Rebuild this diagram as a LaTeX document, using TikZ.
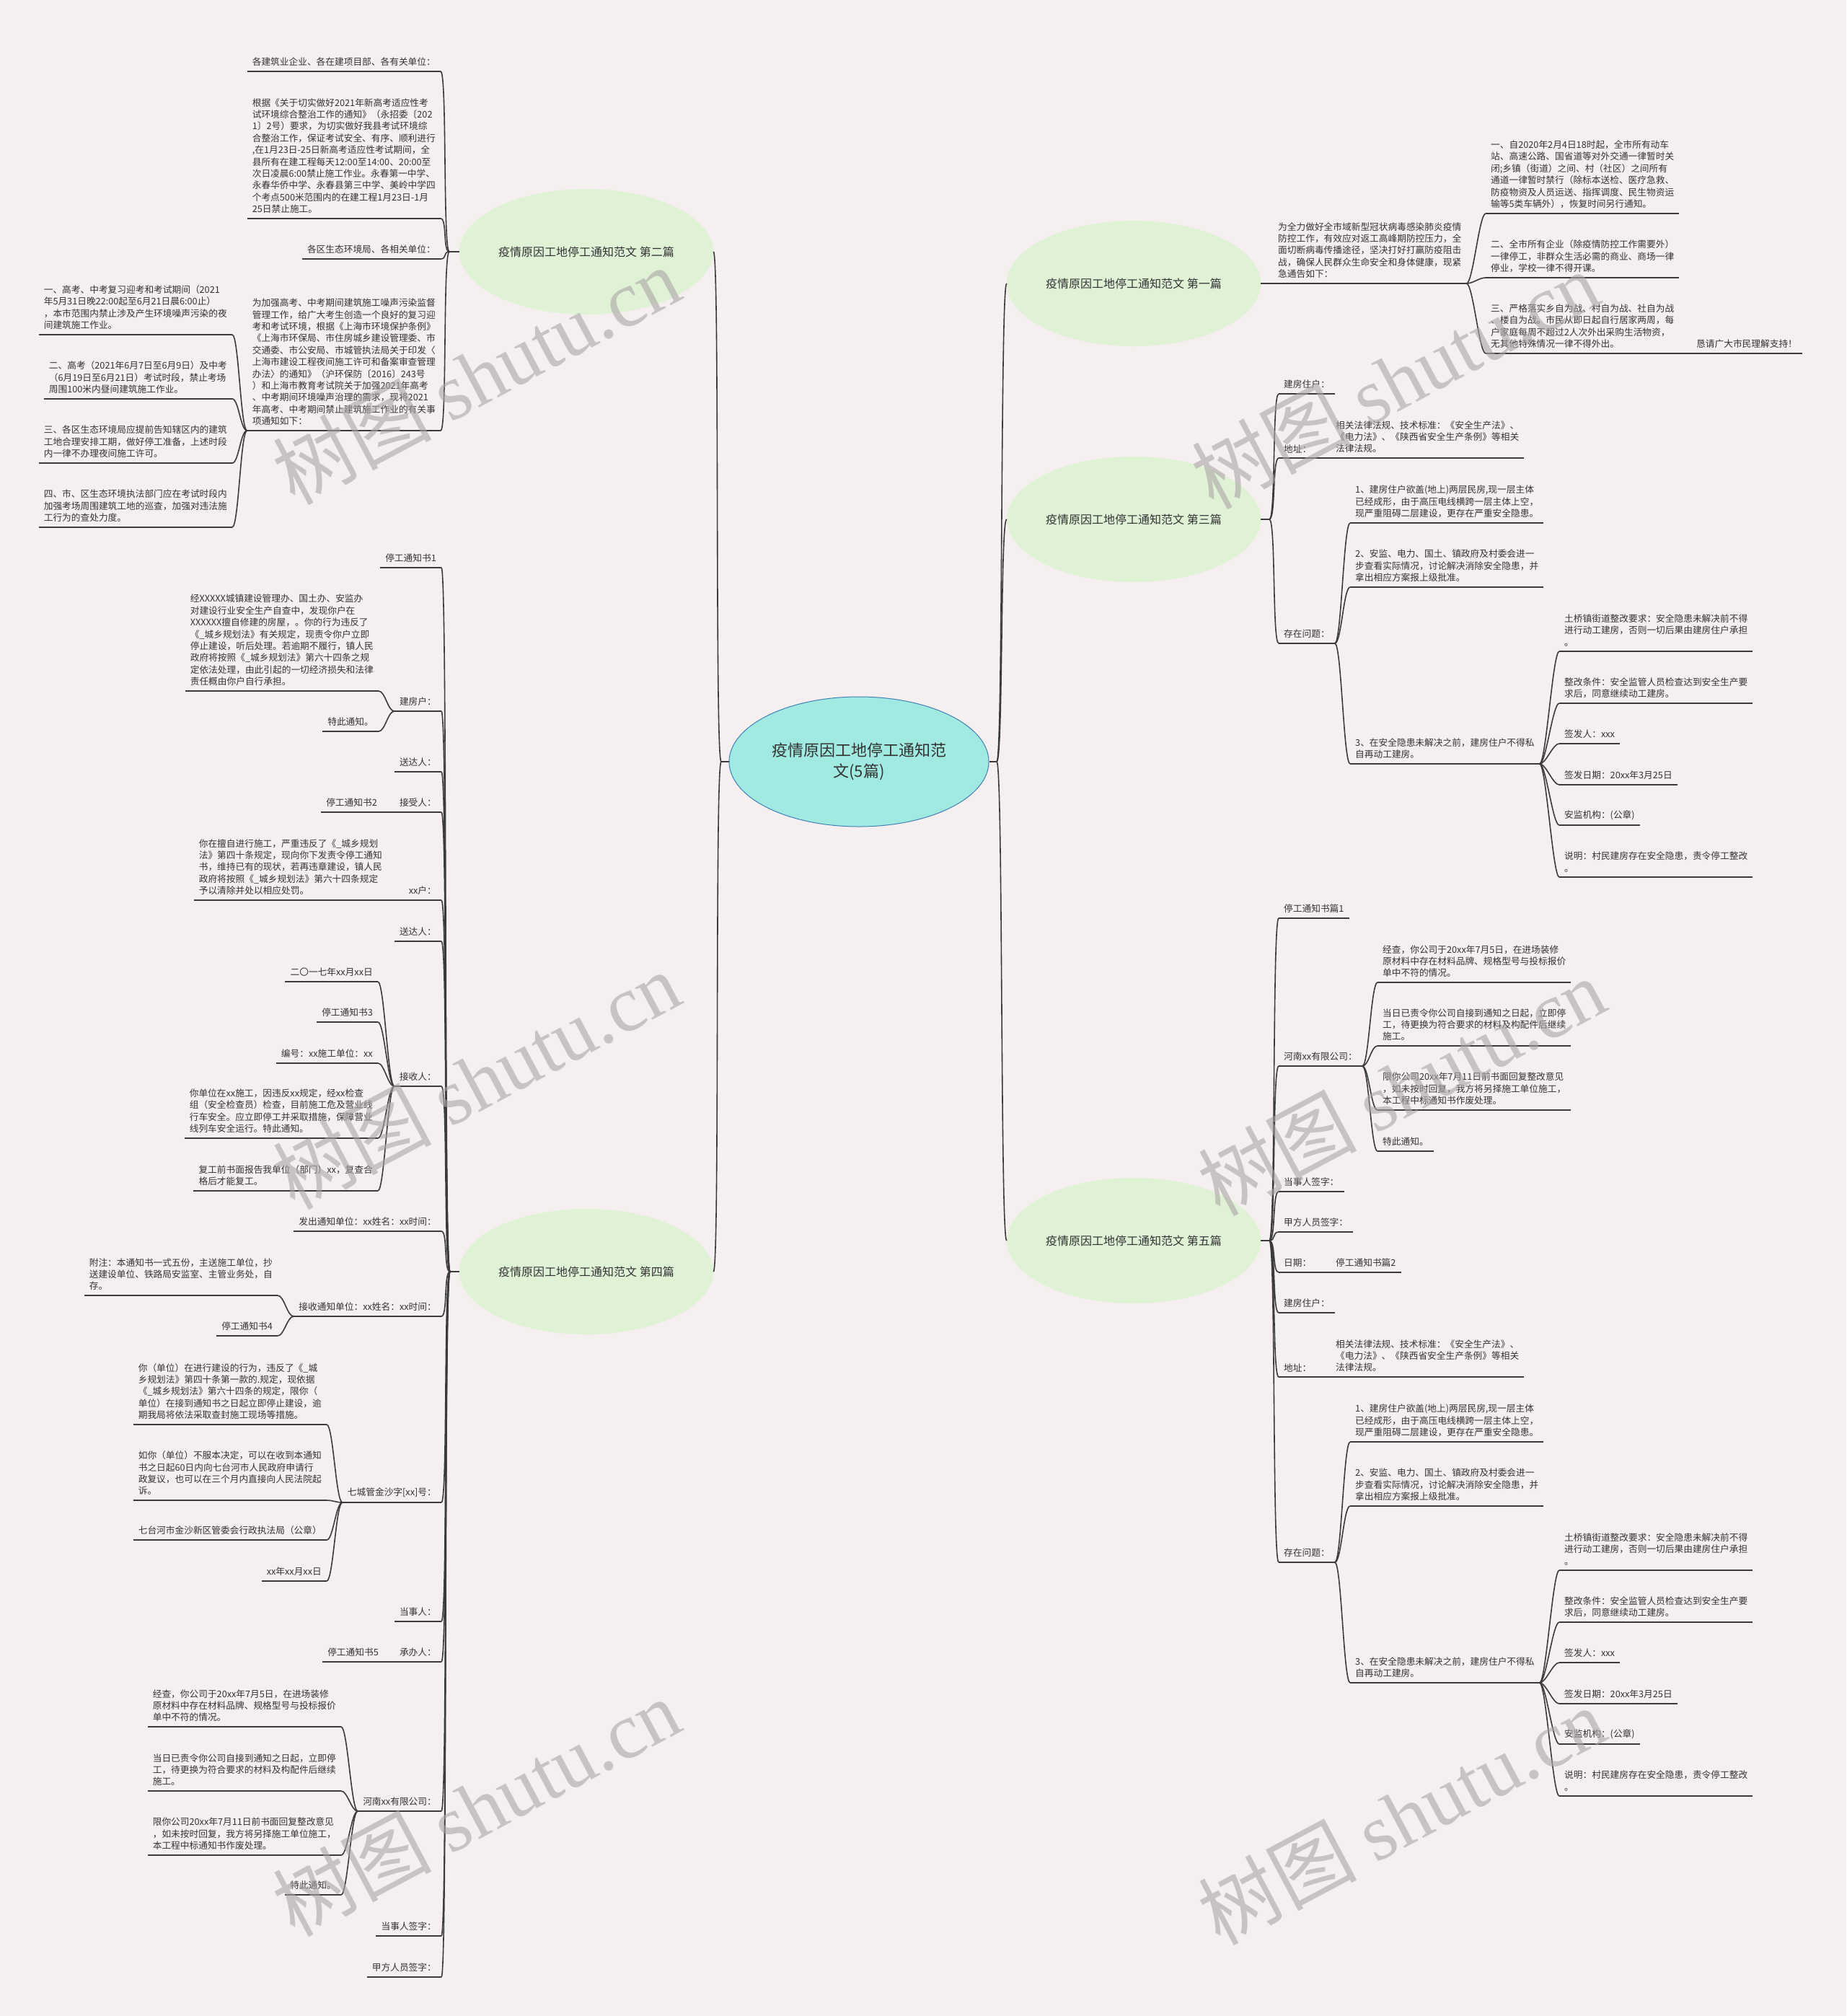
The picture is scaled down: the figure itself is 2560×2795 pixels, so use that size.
\documentclass[tikz,border=0pt]{standalone}
\usepackage{fontspec}
\setmainfont{Noto Sans CJK SC}
\newfontfamily\wmlatin{Liberation Serif}
\usetikzlibrary{shapes.geometric}
\definecolor{bg}{HTML}{F5EFEF}
\definecolor{txt}{HTML}{333333}
\definecolor{ln}{HTML}{3A3A3A}
\definecolor{topicfill}{HTML}{DFF2D6}
\definecolor{rootfill}{HTML}{A1EAE1}
\definecolor{rootline}{HTML}{3F7FB5}
\definecolor{wm}{HTML}{ABA5A5}
\tikzset{
 leaffont/.style={font=\fontsize{12.7pt}{16.4pt}\selectfont},
 uline/.style={draw=ln,line width=1.8pt},
 leafbase/.style={align=left, inner xsep=7pt, inner ysep=7pt, text=txt, leaffont},
 leafR/.style={leafbase, anchor=south west, append after command={(\tikzlastnode.south west) edge[uline] (\tikzlastnode.south east)}},
 leafL/.style={leafbase, anchor=south east, append after command={(\tikzlastnode.south west) edge[uline] (\tikzlastnode.south east)}},
 conn/.style={draw=ln, line width=1.6pt},
 topic/.style={ellipse, fill=topicfill, minimum width=352pt, minimum height=174pt, inner sep=0pt, text=txt, font=\fontsize{16pt}{20pt}\selectfont},
 root/.style={ellipse, fill=rootfill, draw=rootline, line width=1pt, minimum width=360pt, minimum height=180pt, inner sep=0pt, align=center, text=txt, font=\fontsize{22pt}{28.6pt}\selectfont},
 wmark/.style={text=wm, opacity=0.6, rotate=28, font=\fontsize{110pt}{110pt}\selectfont},
}
\newcommand\connR[2]{\draw[conn] (#1) .. controls +(9,0) and +(-9,0) .. (#2.south west);}
\newcommand\connL[2]{\draw[conn] (#1) .. controls +(-9,0) and +(9,0) .. (#2.south east);}
\newcommand\txtJingcha{经查，你公司于20xx年7月5日，在进场装修\\原材料中存在材料品牌、规格型号与投标报价\\单中不符的情况。}
\newcommand\txtDangri{当日已责令你公司自接到通知之日起，立即停\\工，待更换为符合要求的材料及构配件后继续\\施工。}
\newcommand\txtXianni{限你公司20xx年7月11日前书面回复整改意见\\，如未按时回复，我方将另择施工单位施工，\\本工程中标通知书作废处理。}
% block shared by 第三篇 and 第五篇: #1 prefix, #2 y offset, #3 junction
\newcommand\jfblock[3]{%
 \node[leafR] (#1jf) at (1773,{546+#2}) {建房住户：};
 \node[leafR] (#1dz) at (1773,{635+#2}) {地址：};
 \node[leafR] (#1fg) at (1845,{635+#2}) {相关法律法规、技术标准：《安全生产法》、\\《电力法》、《陕西省安全生产条例》等相关\\法律法规。};
 \node[leafR] (#1wt) at (1773,{892+#2}) {存在问题：};
 \node[leafR] (#1sa) at (1872,{725+#2}) {1、建房住户欲盖(地上)两层民房,现一层主体\\已经成形，由于高压电线横跨一层主体上空，\\现严重阻碍二层建设，更存在严重安全隐患。};
 \node[leafR] (#1sb) at (1872,{814+#2}) {2、安监、电力、国土、镇政府及村委会进一\\步查看实际情况，讨论解决消除安全隐患，并\\拿出相应方案报上级批准。};
 \node[leafR] (#1sc) at (1872,{1059+#2}) {3、在安全隐患未解决之前，建房住户不得私\\自再动工建房。};
 \node[leafR] (#1ka) at (2162,{903+#2}) {土桥镇街道整改要求：安全隐患未解决前不得\\进行动工建房，否则一切后果由建房住户承担\\。};
 \node[leafR] (#1kb) at (2162,{975+#2}) {整改条件：安全监管人员检查达到安全生产要\\求后，同意继续动工建房。};
 \node[leafR] (#1kc) at (2162,{1031+#2}) {签发人：xxx};
 \node[leafR] (#1kd) at (2162,{1088+#2}) {签发日期：20xx年3月25日};
 \node[leafR] (#1ke) at (2162,{1144+#2}) {安监机构：(公章)};
 \node[leafR] (#1kf) at (2162,{1216+#2}) {说明：村民建房存在安全隐患，责令停工整改\\。};
 \connR{#3}{#1jf}
 \connR{#3}{#1dz}
 \connR{#3}{#1wt}
 \draw[conn] (#1dz.south east) -- (#1fg.south west);
 \connR{#1wt.south east}{#1sa}
 \connR{#1wt.south east}{#1sb}
 \connR{#1wt.south east}{#1sc}
 \connR{#1sc.south east}{#1ka}
 \connR{#1sc.south east}{#1kb}
 \connR{#1sc.south east}{#1kc}
 \connR{#1sc.south east}{#1kd}
 \connR{#1sc.south east}{#1ke}
 \connR{#1sc.south east}{#1kf}
}
\begin{document}
\begin{tikzpicture}[x=1pt,y=-1pt]
\fill[bg] (0,0) rectangle (2560,2795);
\useasboundingbox (0,0) rectangle (2560,2795);

% ---------- root and main topics ----------
\node[root] (root) at (1191,1056) {疫情原因工地停工通知范\\文(5篇)};
\node[topic] (T1) at (1572,393) {疫情原因工地停工通知范文 第一篇};
\node[topic] (T2) at (813,349) {疫情原因工地停工通知范文 第二篇};
\node[topic] (T3) at (1572,720) {疫情原因工地停工通知范文 第三篇};
\node[topic] (T4) at (813,1763) {疫情原因工地停工通知范文 第四篇};
\node[topic] (T5) at (1572,1720) {疫情原因工地停工通知范文 第五篇};
\coordinate (JL) at (1000,1056);
\coordinate (JR) at (1382,1056);
\draw[conn] (root.west) -- (JL);
\draw[conn] (root.east) -- (JR);
\draw[conn] (JL) .. controls +(-9,0) and +(9,0) .. (T2.east);
\draw[conn] (JL) .. controls +(-9,0) and +(9,0) .. (T4.east);
\draw[conn] (JR) .. controls +(9,0) and +(-9,0) .. (T1.west);
\draw[conn] (JR) .. controls +(9,0) and +(-9,0) .. (T3.west);
\draw[conn] (JR) .. controls +(9,0) and +(-9,0) .. (T5.west);

% ---------- 第一篇 ----------
\node[leafR] (r1) at (1765,393) {为全力做好全市域新型冠状病毒感染肺炎疫情\\防控工作，有效应对返工高峰期防控压力，全\\面切断病毒传播途径，坚决打好打赢防疫阻击\\战，确保人民群众生命安全和身体健康，现紧\\急通告如下：};
\node[leafR] (r1a) at (2060,296) {一、自2020年2月4日18时起，全市所有动车\\站、高速公路、国省道等对外交通一律暂时关\\闭;乡镇（街道）之间、村（社区）之间所有\\通道一律暂时禁行（除标本送检、医疗急救、\\防疫物资及人员运送、指挥调度、民生物资运\\输等5类车辆外），恢复时间另行通知。};
\node[leafR] (r1b) at (2060,385) {二、全市所有企业（除疫情防控工作需要外）\\一律停工，非群众生活必需的商业、商场一律\\停业，学校一律不得开课。};
\node[leafR] (r1c) at (2060,490) {三、严格落实乡自为战、村自为战、社自为战\\、楼自为战。市民从即日起自行居家两周，每\\户家庭每周不超过2人次外出采购生活物资，\\无其他特殊情况一律不得外出。};
\node[leafR] (r1d) at (2345,490) {恳请广大市民理解支持！};
\draw[conn] (T1.east) -- (r1.south west);
\connR{r1.south east}{r1a}
\connR{r1.south east}{r1b}
\connR{r1.south east}{r1c}
\draw[conn] (r1c.south east) -- (r1d.south west);

% ---------- 第三篇 ----------
\coordinate (J3) at (1760,720);
\draw[conn] (T3.east) -- (J3);
\jfblock{c}{0}{J3}

% ---------- 第五篇 ----------
\coordinate (J5) at (1760,1720);
\draw[conn] (T5.east) -- (J5);
\node[leafR] (b1) at (1773,1273) {停工通知书篇1};
\node[leafR] (b2) at (1773,1478) {河南xx有限公司：};
\node[leafR] (b2a) at (1910,1362) {\txtJingcha};
\node[leafR] (b2b) at (1910,1450) {\txtDangri};
\node[leafR] (b2c) at (1910,1539) {\txtXianni};
\node[leafR] (b2d) at (1910,1596) {特此通知。};
\node[leafR] (b3) at (1773,1652) {当事人签字：};
\node[leafR] (b4) at (1773,1708) {甲方人员签字：};
\node[leafR] (b5) at (1773,1764) {日期：};
\node[leafR] (b5x) at (1845,1764) {停工通知书篇2};
\connR{J5}{b1}
\connR{J5}{b2}
\connR{J5}{b3}
\connR{J5}{b4}
\connR{J5}{b5}
\connR{b2.south east}{b2a}
\connR{b2.south east}{b2b}
\connR{b2.south east}{b2c}
\connR{b2.south east}{b2d}
\draw[conn] (b5.south east) -- (b5x.south west);
\jfblock{e}{1274}{J5}

% ---------- 第二篇 ----------
\coordinate (J2) at (623,349);
\draw[conn] (T2.west) -- (J2);
\node[leafL] (L2a) at (611,99) {各建筑业企业、各在建项目部、各有关单位：};
\node[leafL] (L2b) at (611,303) {根据《关于切实做好2021年新高考适应性考\\试环境综合整治工作的通知》（永招委〔202\\1〕2号）要求，为切实做好我县考试环境综\\合整治工作，保证考试安全、有序、顺利进行\\,在1月23日-25日新高考适应性考试期间，全\\县所有在建工程每天12:00至14:00、20:00至\\次日凌晨6:00禁止施工作业。永春第一中学、\\永春华侨中学、永春县第三中学、美岭中学四\\个考点500米范围内的在建工程1月23日-1月\\25日禁止施工。};
\node[leafL] (L2c) at (611,359) {各区生态环境局、各相关单位：};
\node[leafL] (L2d) at (611,597) {为加强高考、中考期间建筑施工噪声污染监督\\管理工作，给广大考生创造一个良好的复习迎\\考和考试环境，根据《上海市环境保护条例》\\《上海市环保局、市住房城乡建设管理委、市\\交通委、市公安局、市城管执法局关于印发〈\\上海市建设工程夜间施工许可和备案审查管理\\办法〉的通知》（沪环保防〔2016〕243号\\）和上海市教育考试院关于加强2021年高考\\、中考期间环境噪声治理的需求，现将2021\\年高考、中考期间禁止建筑施工作业的有关事\\项通知如下：};
\node[leafL] (L2d1) at (322,464) {一、高考、中考复习迎考和考试期间（2021\\年5月31日晚22:00起至6月21日晨6:00止）\\，本市范围内禁止涉及产生环境噪声污染的夜\\间建筑施工作业。};
\node[leafL] (L2d2) at (322,553) {二、高考（2021年6月7日至6月9日）及中考\\（6月19日至6月21日）考试时段，禁止考场\\周围100米内昼间建筑施工作业。};
\node[leafL] (L2d3) at (322,642) {三、各区生态环境局应提前告知辖区内的建筑\\工地合理安排工期，做好停工准备，上述时段\\内一律不办理夜间施工许可。};
\node[leafL] (L2d4) at (322,731) {四、市、区生态环境执法部门应在考试时段内\\加强考场周围建筑工地的巡查，加强对违法施\\工行为的查处力度。};
\connL{J2}{L2a}
\connL{J2}{L2b}
\connL{J2}{L2c}
\connL{J2}{L2d}
\connL{L2d.south west}{L2d1}
\connL{L2d.south west}{L2d2}
\connL{L2d.south west}{L2d3}
\connL{L2d.south west}{L2d4}

% ---------- 第四篇 ----------
\coordinate (J4) at (624,1763);
\draw[conn] (T4.west) -- (J4);
\node[leafL] (a1) at (612,787) {停工通知书1};
\node[leafL] (a2) at (612,986) {建房户：};
\node[leafL] (a2x) at (525,958) {经XXXXX城镇建设管理办、国土办、安监办\\对建设行业安全生产自查中，发现你户在\\XXXXXX擅自修建的房屋，。你的行为违反了\\《\_城乡规划法》有关规定，现责令你户立即\\停止建设，听后处理。若逾期不履行，镇人民\\政府将按照《\_城乡规划法》第六十四条之规\\定依法处理，由此引起的一切经济损失和法律\\责任概由你户自行承担。};
\node[leafL] (a2y) at (525,1014) {特此通知。};
\node[leafL] (a3) at (612,1070) {送达人：};
\node[leafL] (a4) at (612,1126) {接受人：};
\node[leafL] (a4x) at (530,1126) {停工通知书2};
\node[leafL] (a5) at (612,1248) {xx户：};
\node[leafL] (a5x) at (537,1248) {你在擅自进行施工，严重违反了《\_城乡规划\\法》第四十条规定，现向你下发责令停工通知\\书，维持已有的现状，若再违章建设，镇人民\\政府将按照《\_城乡规划法》第六十四条规定\\予以清除并处以相应处罚。};
\node[leafL] (a6) at (612,1305) {送达人：};
\node[leafL] (a7) at (612,1506) {接收人：};
\node[leafL] (a7a) at (524,1361) {二〇一七年xx月xx日};
\node[leafL] (a7b) at (524,1417) {停工通知书3};
\node[leafL] (a7c) at (524,1474) {编号：xx施工单位：xx};
\node[leafL] (a7d) at (524,1578) {你单位在xx施工，因违反xx规定，经xx检查\\组（安全检查员）检查，目前施工危及营业线\\行车安全。应立即停工并采取措施，保障营业\\线列车安全运行。特此通知。};
\node[leafL] (a7e) at (524,1651) {复工前书面报告我单位（部门）xx，复查合\\格后才能复工。};
\node[leafL] (a8) at (612,1707) {发出通知单位：xx姓名：xx时间：};
\node[leafL] (a9) at (612,1825) {接收通知单位：xx姓名：xx时间：};
\node[leafL] (a9a) at (385,1796) {附注：本通知书一式五份，主送施工单位，抄\\送建设单位、铁路局安监室、主管业务处，自\\存。};
\node[leafL] (a9b) at (385,1852) {停工通知书4};
\node[leafL] (a10) at (612,2083) {七城管金沙字[xx]号：};
\node[leafL] (a10a) at (453,1975) {你（单位）在进行建设的行为，违反了《\_城\\乡规划法》第四十条第一款的.规定，现依据\\《\_城乡规划法》第六十四条的规定，限你（\\单位）在接到通知书之日起立即停止建设，逾\\期我局将依法采取查封施工现场等措施。};
\node[leafL] (a10b) at (453,2080) {如你（单位）不服本决定，可以在收到本通知\\书之日起60日内向七台河市人民政府申请行\\政复议，也可以在三个月内直接向人民法院起\\诉。};
\node[leafL] (a10c) at (453,2135) {七台河市金沙新区管委会行政执法局（公章）};
\node[leafL] (a10d) at (453,2192) {xx年xx月xx日};
\node[leafL] (a11) at (612,2248) {当事人：};
\node[leafL] (a12) at (612,2304) {承办人：};
\node[leafL] (a12x) at (532,2304) {停工通知书5};
\node[leafL] (a13) at (612,2511) {河南xx有限公司：};
\node[leafL] (a13a) at (473,2394) {\txtJingcha};
\node[leafL] (a13b) at (473,2483) {\txtDangri};
\node[leafL] (a13c) at (473,2572) {\txtXianni};
\node[leafL] (a13d) at (473,2627) {特此通知。};
\node[leafL] (a14) at (612,2684) {当事人签字：};
\node[leafL] (a15) at (612,2741) {甲方人员签字：};
\foreach \n in {a1,a2,a3,a4,a5,a6,a7,a8,a9,a10,a11,a12,a13,a14,a15}{\connL{J4}{\n}}
\connL{a2.south west}{a2x}
\connL{a2.south west}{a2y}
\draw[conn] (a4.south west) -- (a4x.south east);
\draw[conn] (a5.south west) -- (a5x.south east);
\connL{a7.south west}{a7a}
\connL{a7.south west}{a7b}
\connL{a7.south west}{a7c}
\connL{a7.south west}{a7d}
\connL{a7.south west}{a7e}
\connL{a9.south west}{a9a}
\connL{a9.south west}{a9b}
\connL{a10.south west}{a10a}
\connL{a10.south west}{a10b}
\connL{a10.south west}{a10c}
\connL{a10.south west}{a10d}
\draw[conn] (a12.south west) -- (a12x.south east);
\connL{a13.south west}{a13a}
\connL{a13.south west}{a13b}
\connL{a13.south west}{a13c}
\connL{a13.south west}{a13d}

% ---------- watermarks ----------
\node[wmark] (w1) at (660,520) {树图 {\wmlatin shutu.cn}};
\node[wmark] (w2) at (660,1497) {树图 {\wmlatin shutu.cn}};
\node[wmark] (w3) at (660,2505) {树图 {\wmlatin shutu.cn}};
\node[wmark] (w4) at (1934,526) {树图 {\wmlatin shutu.cn}};
\node[wmark] (w5) at (1943,1506) {树图 {\wmlatin shutu.cn}};
\node[wmark] (w6) at (1943,2517) {树图 {\wmlatin shutu.cn}};
\end{tikzpicture}
\end{document}
